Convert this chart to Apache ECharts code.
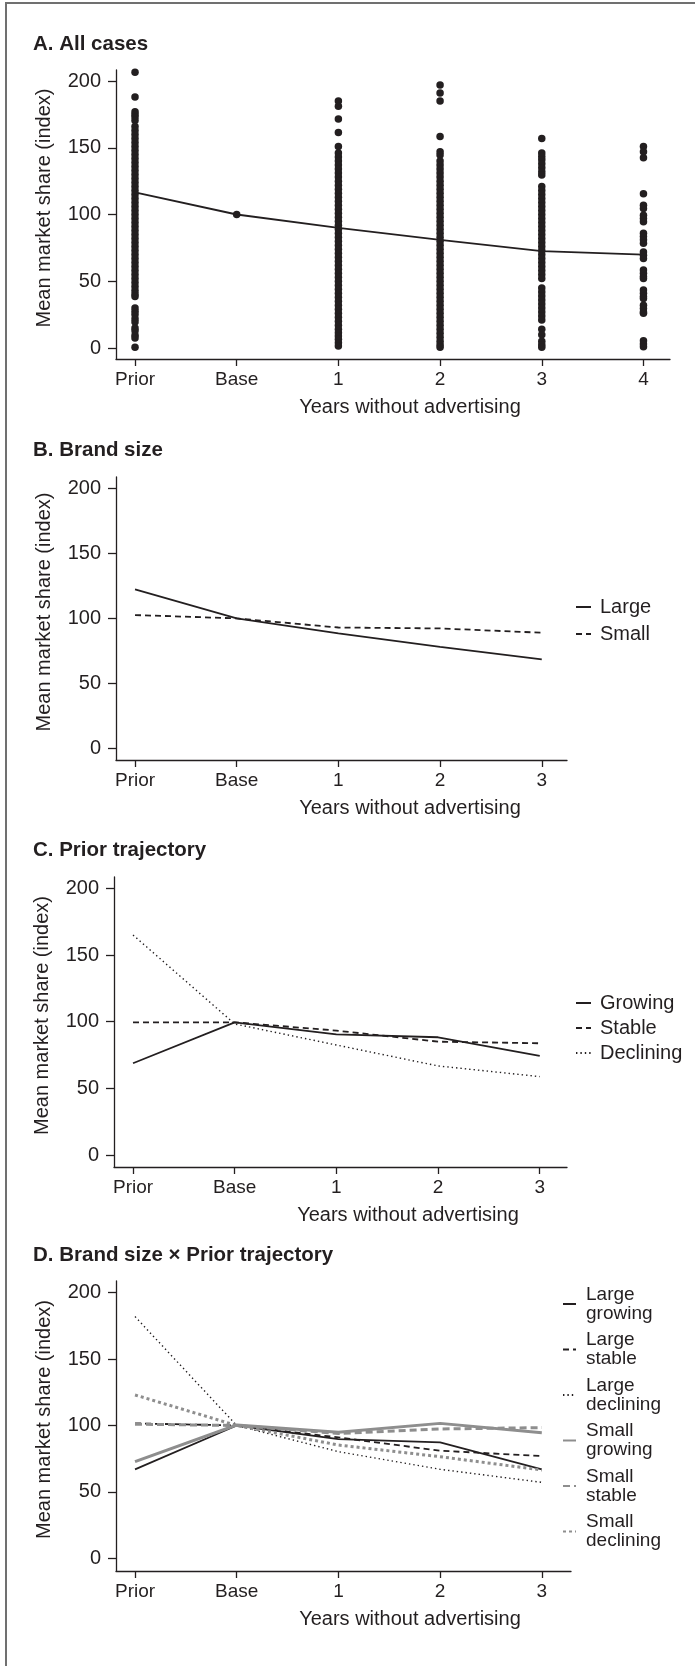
<!DOCTYPE html>
<html><head><meta charset="utf-8">
<script src="https://cdn.jsdelivr.net/npm/echarts@6/dist/echarts.min.js"></script>
<style>html,body{margin:0;padding:0;background:#fff}#c{width:695px;height:1666px}</style>
</head><body><div id="c"></div>
<script>
// ---------- data ----------
const categories = ['Prior', 'Base', '1', '2', '3', '4'];
const yTicks = [0, 50, 100, 150, 200];
const xTicksA = [0, 1, 2, 3, 4, 5];
const xTicksBCD = [0, 1, 2, 3, 4];

// Panel A: individual cases per period
const allPrior = [206.5, 188, 177, 175, 173, 170.5, 166, 163, 160, 157, 154, 151, 148, 145, 142, 139, 136, 133, 130, 127, 124, 121, 118, 115, 112, 109, 106, 103, 100, 97, 94, 91, 88, 85, 82, 79, 76, 73, 70, 67, 64, 61, 58, 55, 52, 49, 46, 43, 40.5, 38.5, 30, 27.5, 25, 22, 19.5, 15, 13, 9.5, 7.5, 0.5];
const allBase = [100];
const allYear1 = [185, 181, 171.5, 161.5, 151, 146, 143, 140, 137, 134, 131, 128, 125, 122, 119, 116, 113, 110, 107, 104, 101, 98, 95, 92, 89, 86, 83, 80, 77, 74, 71, 68, 65, 62, 59, 56, 53, 50, 47, 44, 41, 38, 35, 32, 29, 26, 23, 20, 17, 14, 11.5, 9, 6.5, 4, 1.5];
const allYear2 = [197, 191, 185, 158.5, 147, 144.5, 140, 137, 134, 131, 128, 125, 122, 119, 116, 113, 110, 107, 104, 101, 98, 95, 92, 89, 86, 83, 80, 77, 74, 71, 68, 65, 62, 59, 56, 53, 50, 47, 44, 41, 38, 35, 32, 29, 26, 23, 20, 17, 14, 11, 8, 5, 2.5, 0.5];
const allYear3 = [157, 146, 143.5, 141, 138, 135, 132, 129.5, 121, 118, 115, 112, 109, 106, 103, 100, 97, 94, 91, 88, 85, 82, 79, 76, 73, 70, 67, 64, 61, 58, 55, 52, 45, 42, 39, 36, 33, 30, 27, 24, 21, 14, 10, 5, 2.5, 0.5];
const allYear4 = [151, 147, 142.5, 115.5, 107, 104.5, 99.5, 97, 94.5, 86, 83.5, 81, 78.5, 72, 69.5, 67, 58.5, 56, 53.5, 52, 43.5, 41, 38.5, 37, 32, 29.5, 27, 26, 5.5, 3, 1];
const allMean = [116.5, 100, 90, 81, 72.5, 70];

// Panel B: brand size
const sizeLarge = [122.3, 100, 88.5, 78.2, 68.5];
const sizeSmall = [102.6, 100, 93, 92.3, 89];

// Panel C: prior trajectory
const trajGrowing = [68.8, 99.5, 90.5, 88.3, 74.3];
const trajStable = [99.5, 99.5, 93.3, 85, 83.8];
const trajDeclining = [165, 98.3, 82.5, 66.8, 58.8];

// Panel D: brand size x prior trajectory
const largeGrowing = [67, 100, 89.8, 87.3, 67];
const largeStable = [101.6, 100, 91, 81, 77];
const largeDeclining = [182, 100, 80.3, 67, 57.2];
const smallGrowing = [72.8, 100.4, 94.9, 101.6, 94.6];
const smallStable = [101, 100, 94, 97.4, 98.4];
const smallDeclining = [123, 100, 85.3, 76.5, 66.5];

// ---------- styling ----------
const INK = '#231f20';
const GREY = '#8e8e8e';
const FONT = "'Liberation Sans', Arial, Helvetica, sans-serif";

const scatterData = [];
[allPrior, allBase, allYear1, allYear2, allYear3, allYear4].forEach((arr, i) => {
  arr.forEach(v => scatterData.push([i, v]));
});
const toXY = arr => arr.map((v, i) => [i, v]);

function xAxisCfg(gi, min, max, ticks, namePad) {
  return {
    type: 'value', gridIndex: gi, min: min, max: max,
    name: 'Years without advertising', nameLocation: 'middle', nameGap: 38,
    nameTextStyle: { fontSize: 20, color: INK, fontFamily: FONT, padding: [0, 0, 0, namePad] },
    axisLine: { show: true, onZero: false, lineStyle: { color: INK, width: 1.3 } },
    axisTick: { show: true, length: 7, customValues: ticks, lineStyle: { color: INK, width: 1.3 } },
    axisLabel: { show: true, customValues: ticks, formatter: v => categories[Math.round(v)],
      fontSize: 19, margin: 11, color: INK, fontFamily: FONT },
    splitLine: { show: false }
  };
}
function yAxisCfg(gi, min, max) {
  return {
    type: 'value', gridIndex: gi, min: min, max: max,
    name: 'Mean market share (index)', nameLocation: 'middle', nameGap: 62, nameRotate: 90,
    nameTextStyle: { fontSize: 20, color: INK, fontFamily: FONT, padding: [0, 0, 0, 13] },
    axisLine: { show: true, onZero: false, lineStyle: { color: INK, width: 1.3 } },
    axisTick: { show: true, length: 8, customValues: yTicks, lineStyle: { color: INK, width: 1.3 } },
    axisLabel: { show: true, customValues: yTicks, fontSize: 20, margin: 15, color: INK, fontFamily: FONT },
    splitLine: { show: false }
  };
}
function lineSeries(name, gi, arr, color, width, type) {
  return {
    name: name, type: 'line', xAxisIndex: gi, yAxisIndex: gi, data: toXY(arr),
    symbol: 'none', showSymbol: false, silent: true,
    lineStyle: { color: color, width: width, type: type, cap: 'butt' },
    itemStyle: { color: color }
  };
}
function titleCfg(text, top) {
  return { text: text, left: 33, top: top, padding: 0,
    textStyle: { fontSize: 20.5, fontWeight: 'bold', color: INK, fontFamily: FONT } };
}
function legendCfg(names, left, top, gap, iw, fs, lh, pad) {
  return {
    data: names, orient: 'vertical', left: left, top: top, padding: 0,
    itemWidth: iw, itemHeight: 10, itemGap: gap, selectedMode: false,
    itemStyle: { color: 'rgba(0,0,0,0)', borderColor: 'rgba(0,0,0,0)', borderWidth: 0 },
    textStyle: { fontSize: fs, lineHeight: lh, color: INK, fontFamily: FONT, padding: pad }
  };
}

const DASH = [6, 4];
const DOT = [1.4, 3];
const GDASH = [7, 4];
const GDOT = [3, 3];

const option = {
  animation: false,
  backgroundColor: '#ffffff',
  textStyle: { fontFamily: FONT, color: INK },
  title: [
    titleCfg('A. All cases', 34),
    titleCfg('B. Brand size', 440),
    titleCfg('C. Prior trajectory', 840),
    titleCfg('D. Brand size \u00d7 Prior trajectory', 1245)
  ],
  grid: [
    { left: 116, top: 70, width: 554, height: 289 },
    { left: 116, top: 477, width: 451, height: 283 },
    { left: 114, top: 877, width: 453, height: 290 },
    { left: 116, top: 1281, width: 455, height: 290 }
  ],
  xAxis: [
    xAxisCfg(0, -0.187, 5.261, xTicksA, 34),
    xAxisCfg(1, -0.187, 4.248, xTicksBCD, 137),
    xAxisCfg(2, -0.187, 4.268, xTicksBCD, 135),
    xAxisCfg(3, -0.187, 4.287, xTicksBCD, 133)
  ],
  yAxis: [
    yAxisCfg(0, -8.24, 208.24),
    yAxisCfg(1, -8.84, 208.7),
    yAxisCfg(2, -9, 208.5),
    yAxisCfg(3, -9.56, 208.8)
  ],
  legend: [
    legendCfg(['Large', 'Small'], 575, 593, -1, 15, 20, 20, [0, 0, 8, 4]),
    legendCfg(['Growing', 'Stable', 'Declining'], 575, 989, -3, 15, 20, 20, [0, 0, 8, 4]),
    legendCfg(['Large\ngrowing', 'Large\nstable', 'Large\ndeclining', 'Small\ngrowing', 'Small\nstable', 'Small\ndeclining'],
      562, 1278, -6.5, 13, 19, 19, [14, 0, 0, 5])
  ],
  graphic: [
    { type: 'line', silent: true, shape: { x1: 5, y1: 3, x2: 695, y2: 3 }, style: { stroke: '#707070', lineWidth: 2 } },
    { type: 'line', silent: true, shape: { x1: 6, y1: 2, x2: 6, y2: 1666 }, style: { stroke: '#707070', lineWidth: 2 } }
  ],
  series: [
    lineSeries('Mean', 0, allMean, INK, 1.8, 'solid'),
    { name: 'Cases', type: 'scatter', xAxisIndex: 0, yAxisIndex: 0, data: scatterData,
      symbol: 'circle', symbolSize: 7.5, silent: true, itemStyle: { color: INK, opacity: 1 } },

    lineSeries('Large', 1, sizeLarge, INK, 1.8, 'solid'),
    lineSeries('Small', 1, sizeSmall, INK, 1.8, DASH),

    lineSeries('Growing', 2, trajGrowing, INK, 1.8, 'solid'),
    lineSeries('Stable', 2, trajStable, INK, 1.8, DASH),
    lineSeries('Declining', 2, trajDeclining, INK, 1.4, DOT),

    lineSeries('Large\ngrowing', 3, largeGrowing, INK, 1.8, 'solid'),
    lineSeries('Large\nstable', 3, largeStable, INK, 1.8, DASH),
    lineSeries('Large\ndeclining', 3, largeDeclining, INK, 1.4, DOT),
    lineSeries('Small\ngrowing', 3, smallGrowing, GREY, 3, 'solid'),
    lineSeries('Small\nstable', 3, smallStable, GREY, 3, GDASH),
    lineSeries('Small\ndeclining', 3, smallDeclining, GREY, 3, GDOT)
  ]
};

const chart = echarts.init(document.getElementById('c'), null, { renderer: 'canvas', width: 695, height: 1666 });
chart.setOption(option);
</script></body></html>
